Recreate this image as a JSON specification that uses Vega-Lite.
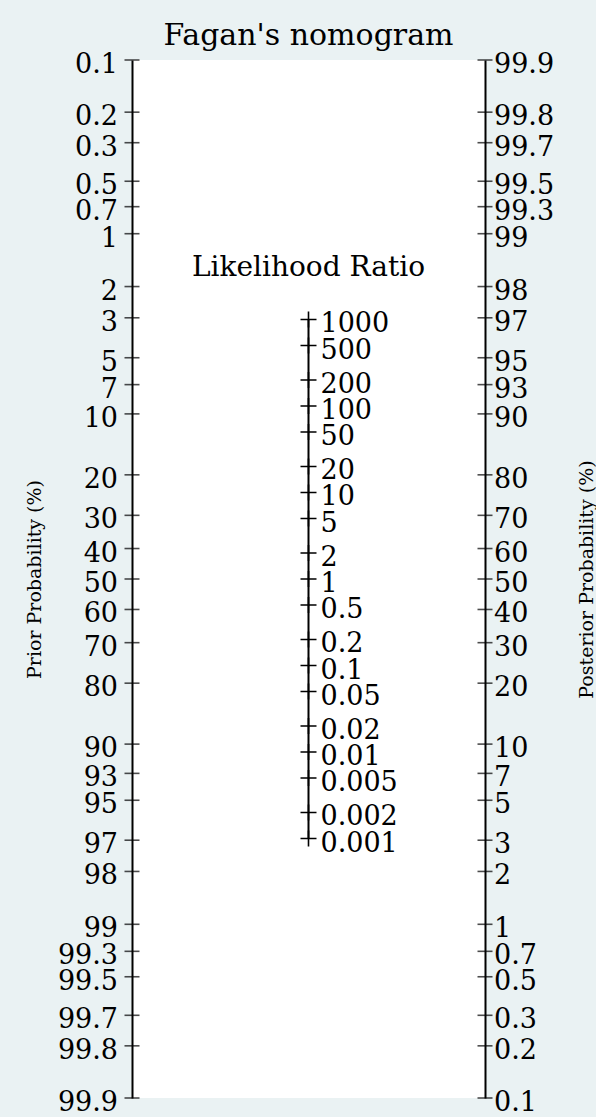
{
  "$schema": "https://vega.github.io/schema/vega-lite/v6.json",
  "width": 353,
  "height": 1038,
  "autosize": {"type": "none"},
  "padding": {"left": 132, "top": 60, "right": 111, "bottom": 19},
  "background": "#eaf2f3",
  "config": {"view": {"fill": "white", "stroke": null}, "font": "DejaVu Serif"},
  "title": {"text": "Fagan's nomogram", "fontSize": 30, "fontWeight": "normal", "color": "black", "anchor": "middle", "frame": "group", "baseline": "alphabetic", "offset": -24},
  "datasets": {
    "prob": [{"p": 0.1}, {"p": 0.2}, {"p": 0.3}, {"p": 0.5}, {"p": 0.7}, {"p": 1}, {"p": 2}, {"p": 3}, {"p": 5}, {"p": 7}, {"p": 10}, {"p": 20}, {"p": 30}, {"p": 40}, {"p": 50}, {"p": 60}, {"p": 70}, {"p": 80}, {"p": 90}, {"p": 93}, {"p": 95}, {"p": 97}, {"p": 98}, {"p": 99}, {"p": 99.3}, {"p": 99.5}, {"p": 99.7}, {"p": 99.8}, {"p": 99.9}],
    "lr": [{"lr": 1000}, {"lr": 500}, {"lr": 200}, {"lr": 100}, {"lr": 50}, {"lr": 20}, {"lr": 10}, {"lr": 5}, {"lr": 2}, {"lr": 1}, {"lr": 0.5}, {"lr": 0.2}, {"lr": 0.1}, {"lr": 0.05}, {"lr": 0.02}, {"lr": 0.01}, {"lr": 0.005}, {"lr": 0.002}, {"lr": 0.001}]
  },
  "layer": [
    {
      "data": {"name": "prob"},
      "transform": [{"calculate": "datum.p / (100 - datum.p)", "as": "odds"}],
      "encoding": {
        "x": {"datum": 0, "type": "quantitative", "scale": {"domain": [0, 1], "nice": false, "zero": false}, "axis": null},
        "y": {
          "field": "odds", "type": "quantitative",
          "scale": {"type": "log", "reverse": true, "nice": false, "zero": false},
          "axis": {"orient": "left", "labels": false, "ticks": false, "grid": false, "domain": true, "domainColor": "black", "domainWidth": 2, "title": "Prior Probability (%)", "titleFontSize": 19, "titleFontWeight": "normal", "titleColor": "black", "titlePadding": 88}
        }
      },
      "layer": [
        {"mark": {"type": "tick", "orient": "horizontal", "size": 15, "thickness": 1.6, "color": "black"}},
        {"mark": {"type": "text", "align": "right", "baseline": "middle", "dx": -14, "dy": 5, "fontSize": 27, "color": "black"},
         "encoding": {"text": {"field": "p", "type": "quantitative", "format": "~g"}}}
      ]
    },
    {
      "data": {"name": "prob"},
      "transform": [{"calculate": "datum.p / (100 - datum.p)", "as": "odds"}],
      "encoding": {
        "x": {"datum": 1, "type": "quantitative", "scale": {"domain": [0, 1], "nice": false, "zero": false}, "axis": null},
        "y": {
          "field": "odds", "type": "quantitative",
          "scale": {"type": "log", "nice": false, "zero": false},
          "axis": {"orient": "right", "labels": false, "ticks": false, "grid": false, "domain": true, "domainColor": "black", "domainWidth": 2, "title": "Posterior Probability (%)", "titleAngle": -90, "titleBaseline": "top", "titleFontSize": 19, "titleFontWeight": "normal", "titleColor": "black", "titlePadding": 92}
        }
      },
      "layer": [
        {"mark": {"type": "tick", "orient": "horizontal", "size": 15, "thickness": 1.6, "color": "black"}},
        {"mark": {"type": "text", "align": "left", "baseline": "middle", "dx": 9, "dy": 5, "fontSize": 27, "color": "black"},
         "encoding": {"text": {"field": "p", "type": "quantitative", "format": "~g"}}}
      ]
    },
    {
      "encoding": {
        "x": {"datum": 0.5, "type": "quantitative", "scale": {"domain": [0, 1], "nice": false, "zero": false}, "axis": null}
      },
      "layer": [
        {
          "data": {"name": "lr"},
          "mark": {"type": "rule", "color": "black", "strokeWidth": 2},
          "encoding": {
            "y": {"aggregate": "min", "field": "lr", "type": "quantitative", "scale": {"type": "log", "domain": [0.000001002003, 998001], "nice": false, "zero": false}, "axis": null},
            "y2": {"aggregate": "max", "field": "lr"}
          }
        },
        {
          "data": {"name": "lr"},
          "mark": {"type": "point", "shape": "M-1,0H1M0,-1V1", "size": 256, "filled": false, "stroke": "black", "strokeWidth": 1.6, "opacity": 1},
          "encoding": {
            "y": {"field": "lr", "type": "quantitative"}
          }
        },
        {
          "data": {"name": "lr"},
          "mark": {"type": "text", "align": "left", "baseline": "middle", "dx": 12, "dy": 5, "fontSize": 27, "color": "black"},
          "encoding": {
            "y": {"field": "lr", "type": "quantitative"},
            "text": {"field": "lr", "type": "quantitative", "format": "~g"}
          }
        },
        {
          "data": {"values": [{"label": "Likelihood Ratio"}]},
          "mark": {"type": "text", "align": "center", "baseline": "alphabetic", "fontSize": 28, "color": "black"},
          "encoding": {
            "y": {"datum": 3200, "type": "quantitative"},
            "text": {"field": "label", "type": "nominal"}
          }
        }
      ]
    }
  ],
  "resolve": {"scale": {"y": "independent"}}
}
